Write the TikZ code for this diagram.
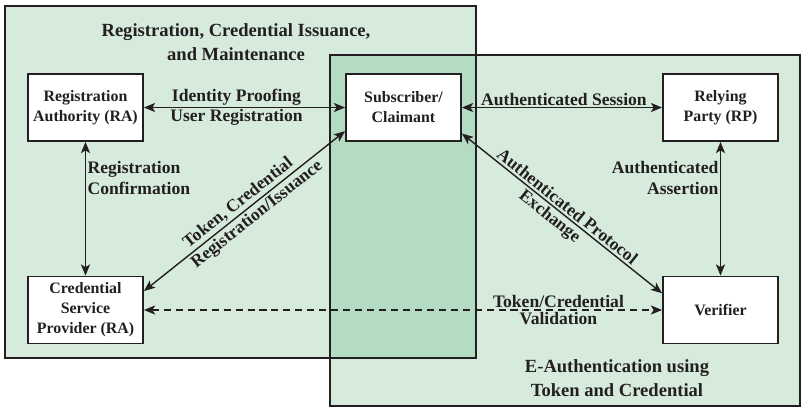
\documentclass[tikz,border=0pt]{standalone}
\usepackage{fontspec}
\setmainfont{Liberation Serif}
\usetikzlibrary{arrows.meta}
\definecolor{lightgreen}{RGB}{214,235,220}
\definecolor{midgreen}{RGB}{179,220,195}
\definecolor{ink}{RGB}{35,31,32}

\begin{document}
\begin{tikzpicture}[x=0.025cm,y=-0.025cm,color=ink]
\tikzstyle{box}=[draw=ink,fill=white,line width=1.3pt,minimum width=2.875cm,minimum height=1.675cm,align=center,font=\fontsize{11.3}{14.2}\selectfont\bfseries]
\tikzstyle{link}=[line width=1pt,{Stealth[length=8pt,width=6.5pt,inset=2pt]}-{Stealth[length=8pt,width=6.5pt,inset=2pt]}]
\tikzstyle{lbl}=[font=\fontsize{12.5}{15}\selectfont\bfseries,inner sep=1pt]
\tikzstyle{title}=[align=center,font=\fontsize{13.2}{17.2}\selectfont\bfseries]
\useasboundingbox (0,0) rectangle (808,416);
% the two areas and their overlap
\fill[lightgreen] (5,6) rectangle (476,358);
\fill[lightgreen] (330,55) rectangle (800,406);
\fill[midgreen] (330,55) rectangle (476,358);
\draw[line width=2pt] (5,6) rectangle (476,358);
\draw[line width=2pt] (330,55) rectangle (800,406);
\node[title] (regtitle) at (236,42) {Registration, Credential Issuance,\\and Maintenance};
\node[title] (authtitle) at (617,378) {E-Authentication using\\Token and Credential};
\foreach \name/\point/\txt in {
	ra/{85.5,107.5}/{Registration\\Authority (RA)},
	sub/{403.5,107.5}/{Subscriber/\\Claimant},
	rp/{720.5,107.5}/{Relying\\Party (RP)},
	csp/{85.5,310}/{Credential\\Service\\Provider (RA)},
	ver/{720.5,310}/{Verifier}}
	\node[box] (\name) at (\point) {\txt};
	\draw[link] (ra) -- (sub) node[lbl,above,pos=0.46] {Identity Proofing} node[lbl,below,pos=0.46] {User Registration};
	\draw[link] (ra) -- (csp) node[lbl,right,align=left,pos=0.27] {Registration\\Confirmation};
	\draw[link] (csp.18) -- (sub.202) node[lbl,sloped,above,pos=0.5,inner sep=1.5pt] {Token, Credential} node[lbl,sloped,below,pos=0.53,inner sep=1.5pt] {Registration/Issuance};
	\draw[link] (sub) -- (rp) node[lbl,above,pos=0.51] {Authenticated Session};
	\draw[link] (sub.336) -- (ver.164) node[lbl,sloped,above,pos=0.5,inner sep=1.5pt] {Authenticated Protocol} node[lbl,sloped,below,pos=0.47,inner sep=1.5pt] {Exchange};
	\draw[link] (rp) -- (ver) node[lbl,left,align=right,pos=0.27] {Authenticated\\Assertion};
	\draw[link,dash pattern=on 5pt off 3.5pt] (csp) -- (ver) node[lbl,above,pos=0.8] {Token/Credential} node[lbl,below,pos=0.8] {Validation};
\end{tikzpicture}
\end{document}
